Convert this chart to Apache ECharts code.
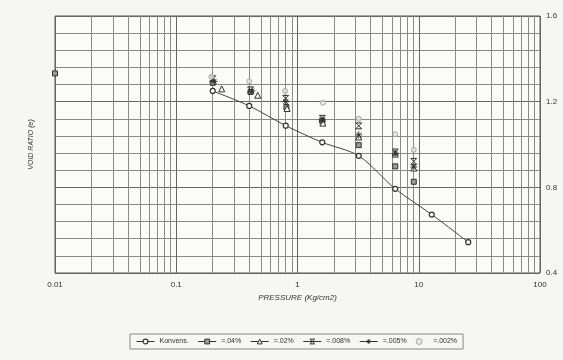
<!DOCTYPE html>
<html>
<head>
<meta charset="utf-8">
<script src="https://cdn.jsdelivr.net/npm/echarts@6/dist/echarts.min.js"></script>
<style>
  html, body { margin: 0; padding: 0; background: #f6f6f4; }
  #chart { width: 563px; height: 360px; }
</style>
</head>
<body>
<div id="chart"></div>
<script>
// data: [pressure (kg/cm2), void ratio]
const konvens = [[0.2, 1.25], [0.4, 1.18], [0.8, 1.088], [1.6, 1.01], [3.2, 0.947], [6.4, 0.793], [12.8, 0.673], [25.6, 0.544]];
const p04 = [[0.01, 1.332], [0.2, 1.288], [0.41, 1.245], [0.81, 1.175], [1.6, 1.11], [3.2, 0.997], [6.4, 0.898], [9.1, 0.826]];
const p02 = [[0.237, 1.26], [0.47, 1.23], [0.82, 1.168], [1.62, 1.1], [3.2, 1.035], [6.4, 0.955], [9.1, 0.89]];
const p008 = [[0.2, 1.307], [0.41, 1.255], [0.8, 1.215], [1.6, 1.122], [3.2, 1.087], [6.4, 0.965], [9.1, 0.921]];
const p005 = [[0.205, 1.295], [0.42, 1.25], [0.8, 1.2], [1.6, 1.115], [3.2, 1.045], [6.4, 0.96], [9.1, 0.895]];
const p002 = [[0.195, 1.316], [0.4, 1.295], [0.79, 1.25], [1.62, 1.195], [3.2, 1.12], [6.4, 1.048], [9.1, 0.975]];

const seriesNames = ['Konvens.', '=.04%', '=.02%', '=.008%', '=.005%', '=.002%'];
const yTicks = { min: 0.4, max: 1.6, step: 0.4 };
const decades = [0.01, 0.1, 1, 10];

// minor vertical lines of the log paper (2..9 in every decade)
const minorX = [];
decades.forEach(d => { for (let k = 2; k <= 9; k++) minorX.push(+(d * k).toPrecision(3)); });

const ink = '#333';
const gridGray = '#8a8a8a';
const hourglass = 'path://M0,0L10,0L0,10L10,10Z';
const asterisk = 'path://M5,0L5,10M0,5L10,5M1.5,1.5L8.5,8.5M8.5,1.5L1.5,8.5';
const clear = 'rgba(0,0,0,0)';

const marks = [
  { symbol: 'circle', size: 5, style: { color: '#fbfbfa', borderColor: ink, borderWidth: 1.2 } },
  { symbol: 'rect', size: 5, style: { color: '#9a9a9a', borderColor: ink, borderWidth: 1 } },
  { symbol: 'triangle', size: 6, style: { color: '#fbfbfa', borderColor: ink, borderWidth: 1 } },
  { symbol: hourglass, size: 6, style: { color: clear, borderColor: ink, borderWidth: 1 } },
  { symbol: asterisk, size: 7, style: { color: clear, borderColor: ink, borderWidth: 1 } },
  { symbol: 'circle', size: 5, style: { color: '#e2e2e2', borderColor: '#999', borderWidth: 1 } },
];

function dotSeries(i, data) {
  return {
    name: seriesNames[i], type: 'line', data, symbol: marks[i].symbol, symbolSize: marks[i].size,
    lineStyle: { width: 0 }, itemStyle: marks[i].style, z: 5,
  };
}

const chart = echarts.init(document.getElementById('chart'));
chart.setOption({
  animation: false,
  backgroundColor: '#f6f6f4',
  grid: {
    left: 55, right: 23, top: 16, bottom: 87,
    show: true, backgroundColor: '#fbfbfa', borderColor: '#555', borderWidth: 1,
  },
  xAxis: {
    type: 'log', logBase: 10, min: 0.01, max: 100,
    name: 'PRESSURE (Kg/cm2)', nameLocation: 'middle', nameGap: 14,
    nameTextStyle: { fontFamily: 'Liberation Sans', fontStyle: 'italic', fontSize: 8, color: ink },
    axisLine: { show: false }, axisTick: { show: false },
    axisLabel: { fontFamily: 'Liberation Sans', fontSize: 8, color: ink, margin: 8,
      formatter: v => String(+v.toPrecision(3)) },
    splitLine: { show: true, lineStyle: { color: '#666', width: 1 } },
  },
  yAxis: [{
    type: 'value', position: 'right', min: yTicks.min, max: yTicks.max, interval: yTicks.step,
    axisLine: { show: false }, axisTick: { show: false },
    axisLabel: { fontFamily: 'Liberation Sans', fontSize: 8, color: ink, margin: 6,
      formatter: v => v.toFixed(1) },
    splitLine: { show: true, lineStyle: { color: '#666', width: 1 } },
    minorTick: { show: false, splitNumber: 5 },
    minorSplitLine: { show: true, lineStyle: { color: gridGray, width: 1 } },
  }, {
    type: 'value', position: 'left', min: yTicks.min, max: yTicks.max,
    name: 'VOID RATIO (e)', nameLocation: 'middle', nameGap: 20,
    nameTextStyle: { fontFamily: 'Liberation Sans', fontStyle: 'italic', fontSize: 7, color: ink },
    axisLine: { show: false }, axisTick: { show: false }, axisLabel: { show: false },
    splitLine: { show: false },
  }],
  legend: {
    bottom: 11, left: 130,
    data: seriesNames.map((name, i) => ({
      name, itemStyle: marks[i].style,
      lineStyle: { width: i === 5 ? 0 : 1, color: ink },
    })),
    borderColor: '#888', borderWidth: 1, borderRadius: 0,
    padding: [4, 6], itemGap: 9, itemWidth: 18, itemHeight: 6,
    textStyle: { fontFamily: 'Liberation Sans', fontSize: 7, color: ink },
  },
  series: [
    {
      name: seriesNames[0], type: 'line', data: konvens, smooth: 0.3,
      symbol: marks[0].symbol, symbolSize: marks[0].size,
      lineStyle: { color: '#444', width: 1 },
      itemStyle: marks[0].style,
      z: 4,
      markLine: {
        silent: true, symbol: 'none', label: { show: false }, z: 1,
        lineStyle: { color: gridGray, width: 1, type: 'solid' },
        emphasis: { disabled: true },
        data: minorX.map(v => ({ xAxis: v })),
      },
    },
    dotSeries(1, p04),
    dotSeries(2, p02),
    dotSeries(3, p008),
    dotSeries(4, p005),
    {
      name: seriesNames[5], type: 'scatter', data: p002,
      symbol: marks[5].symbol, symbolSize: marks[5].size,
      itemStyle: marks[5].style, z: 5,
    },
  ],
});
</script>
</body>
</html>
